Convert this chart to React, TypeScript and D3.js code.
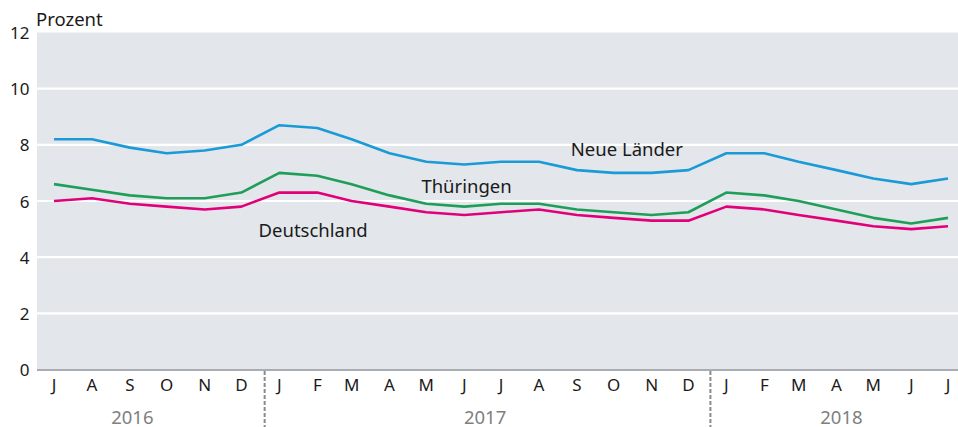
import React from "react";
import * as d3 from "d3";

const months = [
  "2016-07", "2016-08", "2016-09", "2016-10", "2016-11", "2016-12",
  "2017-01", "2017-02", "2017-03", "2017-04", "2017-05", "2017-06",
  "2017-07", "2017-08", "2017-09", "2017-10", "2017-11", "2017-12",
  "2018-01", "2018-02", "2018-03", "2018-04", "2018-05", "2018-06", "2018-07",
];
const monthLabels = ["J","A","S","O","N","D","J","F","M","A","M","J","J","A","S","O","N","D","J","F","M","A","M","J","J"];

const neueLaender = [8.2, 8.2, 7.9, 7.7, 7.8, 8.0, 8.7, 8.6, 8.2, 7.7, 7.4, 7.3, 7.4, 7.4, 7.1, 7.0, 7.0, 7.1, 7.7, 7.7, 7.4, 7.1, 6.8, 6.6, 6.8];
const thueringen = [6.6, 6.4, 6.2, 6.1, 6.1, 6.3, 7.0, 6.9, 6.6, 6.2, 5.9, 5.8, 5.9, 5.9, 5.7, 5.6, 5.5, 5.6, 6.3, 6.2, 6.0, 5.7, 5.4, 5.2, 5.4];
const deutschland = [6.0, 6.1, 5.9, 5.8, 5.7, 5.8, 6.3, 6.3, 6.0, 5.8, 5.6, 5.5, 5.6, 5.7, 5.5, 5.4, 5.3, 5.3, 5.8, 5.7, 5.5, 5.3, 5.1, 5.0, 5.1];

const yTicks = [0, 2, 4, 6, 8, 10, 12];
const years = ["2016", "2017", "2018"];
const yearSeparators = ["2016-12-20", "2017-12-19"];
const yearLabelAnchors = ["2016-09-03", "2017-06-18", "2018-04-05"];

const seriesNames = ["Neue Länder", "Thüringen", "Deutschland"];
const seriesColors = ["#1a9ad6", "#1f9e5a", "#e2007a"];
const seriesLabelAnchors = [
  { date: "2017-08-27", value: 7.6 },
  { date: "2017-04-27", value: 6.3 },
  { date: "2016-12-15", value: 4.72 },
];

const W = 958;
const H = 427;
const plotLeft = 37;
const plotRight = 958;
const plotTop = 32.5;
const plotBottom = 369.5;

const font = "'Noto Sans', sans-serif";

export default function App() {
  const parse = d3.utcParse("%Y-%m");
  const parseDay = d3.utcParse("%Y-%m-%d");
  const dates = months.map((m) => parse(m) as Date);

  const x = d3.scaleUtc().domain([dates[0], dates[dates.length - 1]]).range([54, 948]);
  const y = d3.scaleLinear().domain([0, 12]).range([plotBottom, plotTop]);

  const line = d3
    .line<number>()
    .x((_, i) => x(dates[i]))
    .y((v) => y(v));

  const allSeries = [neueLaender, thueringen, deutschland];

  return (
    <svg
      width={W}
      height={H}
      style={{ position: "absolute", left: 0, top: 0, display: "block" }}
      fontFamily={font}
    >
      <rect x={plotLeft} y={plotTop} width={plotRight - plotLeft} height={plotBottom - plotTop} fill="#e3e7eb" />
      {yTicks.filter((t) => t > 0 && t < 12).map((t) => (
        <line key={t} x1={plotLeft} x2={plotRight} y1={y(t)} y2={y(t)} stroke="#ffffff" strokeWidth={2.2} />
      ))}
      <line x1={plotLeft} x2={plotRight} y1={y(0) + 0.5} y2={y(0) + 0.5} stroke="#a9adb1" strokeWidth={2} />
      {yTicks.map((t) => (
        <text key={t} x={29.5} y={y(t)} textAnchor="end" dominantBaseline="central" fontSize={17} fill="#1a1a1a">
          {t}
        </text>
      ))}
      <text x={36} y={26} fontSize={18.5} fill="#1a1a1a">Prozent</text>

      {allSeries.map((s, i) => (
        <path key={i} d={line(s) || ""} fill="none" stroke={seriesColors[i]} strokeWidth={2.6} strokeLinejoin="round" />
      ))}
      {seriesNames.map((n, i) => (
        <text
          key={n}
          x={x(parseDay(seriesLabelAnchors[i].date) as Date)}
          y={y(seriesLabelAnchors[i].value)}
          fontSize={18.5}
          fill="#1a1a1a"
        >
          {n}
        </text>
      ))}

      {dates.map((d, i) => (
        <text key={i} x={x(d)} y={391} textAnchor="middle" fontSize={17} fill="#1a1a1a">
          {monthLabels[i]}
        </text>
      ))}
      {yearSeparators.map((s) => {
        const xs = x(parseDay(s) as Date);
        return (
          <line key={s} x1={xs} x2={xs} y1={y(0) + 1.5} y2={H} stroke="#8a8a8a" strokeWidth={2} strokeDasharray="4,2" />
        );
      })}
      {years.map((yr, i) => (
        <text
          key={yr}
          x={x(parseDay(yearLabelAnchors[i]) as Date)}
          y={424}
          textAnchor="middle"
          fontSize={18.5}
          fill="#7f7f7f"
        >
          {yr}
        </text>
      ))}
    </svg>
  );
}
